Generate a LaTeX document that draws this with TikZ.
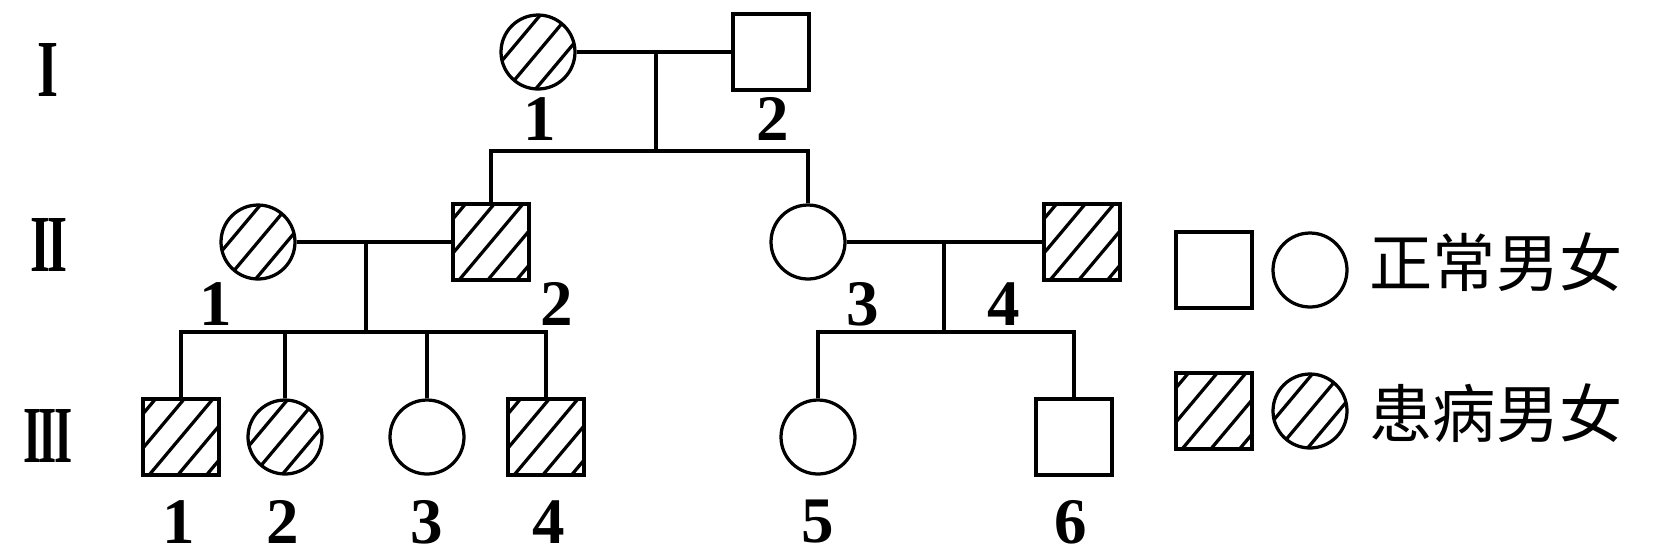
\documentclass[tikz,border=0pt]{standalone}
\usepackage{fontspec}
\usepackage{graphicx}
\setmainfont{Liberation Serif}
\newfontfamily\cjk{Noto Sans CJK SC}
\usetikzlibrary{calc}

\newcommand{\lw}{0.065cm}
\newcommand{\gennum}[2]{\resizebox{#1}{1.06cm}{\bfseries #2}}

\begin{document}
\begin{tikzpicture}[x=0.02cm, y=-0.02cm, line width=\lw,
    hatch/.style={path picture={
        \foreach \k in {-3,...,3}
          \draw[line width=\lw]
            ($(path picture bounding box.center)+(140:\k*0.44cm)+(50:-1.3cm)$)
            -- ++(50:2.6cm);}},
    male/.style={draw, rectangle, inner sep=0pt, minimum size=1.52cm},
    female/.style={draw, circle, inner sep=0pt, minimum size=1.48cm},
    num/.style={font=\bfseries\fontsize{37}{37}\selectfont, inner sep=0pt},
    gen/.style={inner sep=0pt},
    key/.style={font=\cjk\fontsize{36}{36}\selectfont, inner sep=0pt, anchor=west}]

  \useasboundingbox (0,0) rectangle (1654,559);

  %% generation labels
  \node[gen] (gI)   at (48,70)  {\gennum{0.42cm}{I}};
  \node[gen] (gII)  at (49,245) {\gennum{0.74cm}{I\kern-0.06em I}};
  \node[gen] (gIII) at (48,436) {\gennum{0.98cm}{I\kern-0.06em I\kern-0.06em I}};

  %% generation I
  \node[female, hatch] (i1) at (538,52) {};
  \node[male]          (i2) at (771,52) {};
  \node[num] at (540,119) {1};
  \node[num] at (773,119) {2};

  \draw (i1) -- (i2);
  \coordinate (m1)   at (656,52);
  \coordinate (sib1) at (656,151);
  \draw (m1) -- (sib1);

  %% generation II
  \node[female, hatch] (ii1) at (258,242)  {};
  \node[male, hatch]   (ii2) at (491,242)  {};
  \node[female]        (ii3) at (808,242)  {};
  \node[male, hatch]   (ii4) at (1082,242) {};
  \node[num] at (216,304)  {1};
  \node[num] at (557,304)  {2};
  \node[num] at (863,304)  {3};
  \node[num] at (1004,304) {4};

  \draw (ii2.north) |- (sib1) -| (ii3.north);

  \draw (ii1) -- (ii2);
  \coordinate (m2)   at (366,242);
  \coordinate (sib2) at (366,332);
  \draw (m2) -- (sib2);

  \draw (ii3) -- (ii4);
  \coordinate (m3)   at (944,242);
  \coordinate (sib3) at (944,332);
  \draw (m3) -- (sib3);

  %% generation III
  \node[male, hatch]   (iii1) at (181,437)  {};
  \node[female, hatch] (iii2) at (285,437)  {};
  \node[female]        (iii3) at (427,437)  {};
  \node[male, hatch]   (iii4) at (546,437)  {};
  \node[female]        (iii5) at (818,437)  {};
  \node[male]          (iii6) at (1074,437) {};
  \node[num] at (179,522)  {1};
  \node[num] at (283,522)  {2};
  \node[num] at (427,522)  {3};
  \node[num] at (549,522)  {4};
  \node[num] at (818,522)  {5};
  \node[num] at (1071,522) {6};

  \draw (iii1.north) |- (sib2) -| (iii4.north);
  \draw (iii2.north) -- (iii2.north |- sib2);
  \draw (iii3.north) -- (iii3.north |- sib2);
  \draw (iii5.north) |- (sib3) -| (iii6.north);

  %% key
  \node[male]          (km)  at (1214,270) {};
  \node[female]        (kf)  at (1310,270) {};
  \node[key] (kn) at (1368,262) {正常男女};
  \node[male, hatch]   (kam) at (1214,411) {};
  \node[female, hatch] (kaf) at (1310,411) {};
  \node[key] (ka) at (1368,413) {患病男女};

\end{tikzpicture}
\end{document}
